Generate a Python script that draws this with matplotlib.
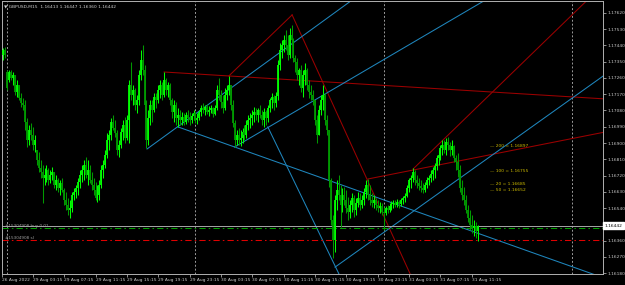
import numpy as np
import matplotlib.pyplot as plt

# GBPUSD M15 bars, numbered from 29 Aug 00:00 (first two bars are Friday 26 Aug)
bar_start = -2
opens = [
    1.17387, 1.17415, 1.17293, 1.17249, 1.17293, 1.17260, 1.17277, 1.17183, 1.17221, 1.17149,
    1.17122, 1.17111, 1.17016, 1.16917, 1.16972, 1.16944, 1.16889, 1.16861, 1.16806, 1.16762,
    1.16739, 1.16706, 1.16723, 1.16751, 1.16695, 1.16723, 1.16739, 1.16667, 1.16695, 1.16651,
    1.16679, 1.16640, 1.16584, 1.16557, 1.16529, 1.16540, 1.16612, 1.16629, 1.16651, 1.16684,
    1.16723, 1.16751, 1.16778, 1.16723, 1.16751, 1.16695, 1.16667, 1.16640, 1.16595, 1.16612,
    1.16667, 1.16751, 1.16778, 1.16834, 1.16917, 1.16944, 1.17016, 1.16983, 1.16955, 1.16861,
    1.16889, 1.16961, 1.17000, 1.16927, 1.17028, 1.17221, 1.17166, 1.17194, 1.17111, 1.17138,
    1.17277, 1.17360, 1.17304, 1.17111, 1.16917, 1.17039, 1.17111, 1.17083, 1.17155, 1.17138,
    1.17194, 1.17221, 1.17166, 1.17249, 1.17194, 1.17221, 1.17138, 1.17072, 1.17111, 1.17039,
    1.17055, 1.17028, 1.17044, 1.17016, 1.17055, 1.17039, 1.17028, 1.17050, 1.17066, 1.17028,
    1.17039, 1.17072, 1.17094, 1.17083, 1.17099, 1.17072, 1.17083, 1.17094, 1.17061, 1.17094,
    1.17194, 1.17166, 1.17127, 1.17094, 1.17166, 1.17194, 1.17221, 1.17111, 1.17011, 1.16917,
    1.16944, 1.16917, 1.16927, 1.16961, 1.16944, 1.17000, 1.17028, 1.17039, 1.17055, 1.17072,
    1.17055, 1.17083, 1.17055, 1.17028, 1.17072, 1.17039, 1.17094, 1.17138, 1.17155, 1.17122,
    1.17160, 1.17332, 1.17415, 1.17443, 1.17471, 1.17443, 1.17387, 1.17498, 1.17471, 1.17371,
    1.17349, 1.17277, 1.17304, 1.17205, 1.17277, 1.17304, 1.17221, 1.17183, 1.17166, 1.17138,
    1.17028, 1.16944, 1.17083, 1.17138, 1.17166, 1.17028, 1.16972, 1.16695, 1.16474, 1.16363,
    1.16584, 1.16640, 1.16612, 1.16557, 1.16612, 1.16584, 1.16540, 1.16518, 1.16557, 1.16595,
    1.16529, 1.16568, 1.16595, 1.16557, 1.16584, 1.16629, 1.16667, 1.16612, 1.16584, 1.16568,
    1.16584, 1.16557, 1.16540, 1.16551, 1.16518, 1.16512, 1.16540, 1.16529, 1.16551, 1.16562,
    1.16568, 1.16557, 1.16573, 1.16562, 1.16584, 1.16595, 1.16607, 1.16651, 1.16695, 1.16706,
    1.16739, 1.16695, 1.16679, 1.16662, 1.16651, 1.16640, 1.16667, 1.16695, 1.16706, 1.16728,
    1.16751, 1.16773, 1.16817, 1.16834, 1.16872, 1.16889, 1.16861, 1.16906, 1.16889, 1.16861,
    1.16883, 1.16817, 1.16795, 1.16751, 1.16651, 1.16612, 1.16584, 1.16529, 1.16485, 1.16446,
    1.16429, 1.16440, 1.16413,
]
highs = [
    1.17426, 1.17432, 1.17304, 1.17304, 1.17304, 1.17293, 1.17277, 1.17249, 1.17221, 1.17177,
    1.17149, 1.17138, 1.17039, 1.17000, 1.17011, 1.16989, 1.16944, 1.16861, 1.16850, 1.16806,
    1.16778, 1.16762, 1.16778, 1.16762, 1.16751, 1.16767, 1.16739, 1.16723, 1.16706, 1.16695,
    1.16706, 1.16651, 1.16629, 1.16595, 1.16584, 1.16629, 1.16651, 1.16667, 1.16706, 1.16751,
    1.16778, 1.16806, 1.16823, 1.16806, 1.16778, 1.16739, 1.16706, 1.16684, 1.16667, 1.16695,
    1.16778, 1.16806, 1.16861, 1.16955, 1.16972, 1.17039, 1.17055, 1.17028, 1.16972, 1.16917,
    1.16983, 1.17028, 1.17044, 1.17055, 1.17249, 1.17349, 1.17221, 1.17205, 1.17166, 1.17304,
    1.17415, 1.17443, 1.17332, 1.17138, 1.17083, 1.17138, 1.17138, 1.17177, 1.17177, 1.17221,
    1.17249, 1.17238, 1.17293, 1.17260, 1.17238, 1.17232, 1.17149, 1.17138, 1.17127, 1.17094,
    1.17083, 1.17072, 1.17066, 1.17072, 1.17083, 1.17072, 1.17066, 1.17083, 1.17072, 1.17066,
    1.17083, 1.17111, 1.17122, 1.17111, 1.17116, 1.17105, 1.17111, 1.17099, 1.17111, 1.17221,
    1.17260, 1.17194, 1.17166, 1.17205, 1.17221, 1.17271, 1.17205, 1.17138, 1.17028, 1.16972,
    1.16983, 1.16972, 1.16983, 1.17000, 1.17028, 1.17055, 1.17066, 1.17083, 1.17099, 1.17094,
    1.17094, 1.17111, 1.17083, 1.17094, 1.17083, 1.17111, 1.17149, 1.17177, 1.17166, 1.17183,
    1.17360, 1.17454, 1.17471, 1.17498, 1.17526, 1.17498, 1.17537, 1.17554, 1.17482, 1.17387,
    1.17371, 1.17315, 1.17332, 1.17304, 1.17343, 1.17315, 1.17249, 1.17221, 1.17194, 1.17138,
    1.17055, 1.17111, 1.17166, 1.17221, 1.17177, 1.17055, 1.16972, 1.16706, 1.16501, 1.16612,
    1.16695, 1.16723, 1.16667, 1.16651, 1.16656, 1.16640, 1.16601, 1.16584, 1.16623, 1.16612,
    1.16595, 1.16629, 1.16623, 1.16612, 1.16651, 1.16695, 1.16701, 1.16667, 1.16623, 1.16612,
    1.16595, 1.16584, 1.16573, 1.16568, 1.16546, 1.16551, 1.16557, 1.16568, 1.16579, 1.16584,
    1.16584, 1.16590, 1.16584, 1.16595, 1.16607, 1.16623, 1.16667, 1.16706, 1.16723, 1.16762,
    1.16751, 1.16723, 1.16706, 1.16695, 1.16679, 1.16684, 1.16712, 1.16723, 1.16751, 1.16767,
    1.16789, 1.16834, 1.16861, 1.16889, 1.16917, 1.16917, 1.16927, 1.16933, 1.16906, 1.16917,
    1.16889, 1.16834, 1.16845, 1.16778, 1.16695, 1.16656, 1.16612, 1.16557, 1.16529, 1.16501,
    1.16474, 1.16463, 1.16447,
]
lows = [
    1.17360, 1.17371, 1.17194, 1.17238, 1.17249, 1.17221, 1.17166, 1.17155, 1.17138, 1.17099,
    1.17083, 1.16972, 1.16878, 1.16889, 1.16917, 1.16861, 1.16850, 1.16778, 1.16739, 1.16706,
    1.16568, 1.16667, 1.16684, 1.16667, 1.16679, 1.16695, 1.16651, 1.16640, 1.16629, 1.16612,
    1.16629, 1.16557, 1.16529, 1.16501, 1.16485, 1.16518, 1.16584, 1.16595, 1.16612, 1.16651,
    1.16684, 1.16695, 1.16706, 1.16667, 1.16679, 1.16640, 1.16612, 1.16584, 1.16573, 1.16584,
    1.16651, 1.16706, 1.16762, 1.16817, 1.16861, 1.16917, 1.16972, 1.16933, 1.16834, 1.16823,
    1.16872, 1.16917, 1.16900, 1.16917, 1.16900, 1.17138, 1.17111, 1.17083, 1.17066, 1.17111,
    1.17249, 1.17277, 1.17083, 1.16872, 1.16889, 1.17000, 1.17016, 1.17072, 1.17094, 1.17122,
    1.17149, 1.17138, 1.17155, 1.17166, 1.17155, 1.17111, 1.17039, 1.17016, 1.17000, 1.16989,
    1.17000, 1.17000, 1.17000, 1.17005, 1.17016, 1.17000, 1.17011, 1.17028, 1.17011, 1.17005,
    1.17028, 1.17050, 1.17066, 1.17055, 1.17061, 1.17050, 1.17066, 1.17044, 1.17055, 1.17083,
    1.17138, 1.17094, 1.17066, 1.17083, 1.17138, 1.17166, 1.17083, 1.16989, 1.16878, 1.16889,
    1.16889, 1.16883, 1.16900, 1.16917, 1.16927, 1.16972, 1.16983, 1.17000, 1.17016, 1.17028,
    1.17016, 1.17039, 1.17000, 1.16989, 1.17000, 1.17016, 1.17072, 1.17094, 1.17083, 1.17099,
    1.17138, 1.17304, 1.17371, 1.17404, 1.17415, 1.17360, 1.17371, 1.17443, 1.17349, 1.17293,
    1.17249, 1.17221, 1.17183, 1.17155, 1.17221, 1.17194, 1.17149, 1.17138, 1.17111, 1.17000,
    1.16900, 1.16944, 1.17055, 1.17083, 1.17000, 1.16944, 1.16656, 1.16446, 1.16263, 1.16296,
    1.16529, 1.16584, 1.16435, 1.16518, 1.16557, 1.16512, 1.16474, 1.16485, 1.16518, 1.16490,
    1.16501, 1.16546, 1.16529, 1.16540, 1.16557, 1.16595, 1.16584, 1.16557, 1.16546, 1.16540,
    1.16529, 1.16518, 1.16512, 1.16501, 1.16418, 1.16501, 1.16512, 1.16518, 1.16529, 1.16540,
    1.16546, 1.16546, 1.16540, 1.16551, 1.16562, 1.16573, 1.16601, 1.16629, 1.16651, 1.16684,
    1.16667, 1.16651, 1.16640, 1.16629, 1.16623, 1.16629, 1.16651, 1.16667, 1.16684, 1.16695,
    1.16706, 1.16751, 1.16778, 1.16806, 1.16834, 1.16845, 1.16834, 1.16861, 1.16828, 1.16834,
    1.16795, 1.16751, 1.16712, 1.16629, 1.16584, 1.16557, 1.16512, 1.16463, 1.16418, 1.16402,
    1.16386, 1.16374, 1.16360,
]
closes = [
    1.17415, 1.17387, 1.17205, 1.17293, 1.17260, 1.17277, 1.17183, 1.17221, 1.17149, 1.17122,
    1.17111, 1.17016, 1.16917, 1.16972, 1.16944, 1.16889, 1.16917, 1.16806, 1.16762, 1.16739,
    1.16706, 1.16723, 1.16751, 1.16695, 1.16723, 1.16739, 1.16667, 1.16695, 1.16651, 1.16679,
    1.16640, 1.16584, 1.16557, 1.16529, 1.16540, 1.16612, 1.16629, 1.16651, 1.16684, 1.16723,
    1.16751, 1.16778, 1.16723, 1.16751, 1.16695, 1.16667, 1.16640, 1.16595, 1.16612, 1.16667,
    1.16751, 1.16778, 1.16834, 1.16917, 1.16944, 1.17016, 1.16983, 1.16955, 1.16861, 1.16889,
    1.16961, 1.17000, 1.16927, 1.17028, 1.17221, 1.17166, 1.17194, 1.17111, 1.17138, 1.17277,
    1.17360, 1.17304, 1.17111, 1.16917, 1.17039, 1.17111, 1.17083, 1.17155, 1.17138, 1.17194,
    1.17221, 1.17166, 1.17249, 1.17194, 1.17221, 1.17138, 1.17072, 1.17111, 1.17039, 1.17055,
    1.17028, 1.17044, 1.17016, 1.17055, 1.17039, 1.17028, 1.17050, 1.17066, 1.17028, 1.17039,
    1.17072, 1.17094, 1.17083, 1.17099, 1.17072, 1.17083, 1.17094, 1.17061, 1.17094, 1.17194,
    1.17166, 1.17127, 1.17094, 1.17166, 1.17194, 1.17221, 1.17111, 1.17011, 1.16917, 1.16944,
    1.16917, 1.16927, 1.16961, 1.16944, 1.17000, 1.17028, 1.17039, 1.17055, 1.17072, 1.17055,
    1.17083, 1.17055, 1.17028, 1.17072, 1.17039, 1.17094, 1.17138, 1.17155, 1.17122, 1.17160,
    1.17332, 1.17415, 1.17443, 1.17471, 1.17443, 1.17387, 1.17498, 1.17471, 1.17371, 1.17349,
    1.17277, 1.17304, 1.17205, 1.17277, 1.17304, 1.17221, 1.17183, 1.17166, 1.17138, 1.17028,
    1.16944, 1.17083, 1.17138, 1.17166, 1.17028, 1.16972, 1.16695, 1.16474, 1.16363, 1.16584,
    1.16640, 1.16612, 1.16557, 1.16612, 1.16584, 1.16540, 1.16518, 1.16557, 1.16595, 1.16529,
    1.16568, 1.16595, 1.16557, 1.16584, 1.16629, 1.16667, 1.16612, 1.16584, 1.16568, 1.16584,
    1.16557, 1.16540, 1.16551, 1.16518, 1.16512, 1.16540, 1.16529, 1.16551, 1.16562, 1.16568,
    1.16557, 1.16573, 1.16562, 1.16584, 1.16595, 1.16607, 1.16651, 1.16695, 1.16706, 1.16739,
    1.16695, 1.16679, 1.16662, 1.16651, 1.16640, 1.16667, 1.16695, 1.16706, 1.16728, 1.16751,
    1.16773, 1.16817, 1.16834, 1.16872, 1.16889, 1.16861, 1.16906, 1.16889, 1.16861, 1.16883,
    1.16817, 1.16795, 1.16751, 1.16651, 1.16612, 1.16584, 1.16529, 1.16485, 1.16446, 1.16429,
    1.16440, 1.16413, 1.16442,
]

symbol = "GBPUSD,M15"
bid = 1.16442
order_ticket = "#15304908"
order_price = 1.16428
order_sl = 1.16363

ma_periods = [200, 100, 20, 50]
ma_values = [1.16897, 1.16755, 1.16685, 1.16652]
ma_label_bar = 246

# trend lines as (bar1, price1, bar2, price2)
red_lines = [
    (80, 1.17293, 305, 1.17144),
    (113, 1.17271, 145.3, 1.17609),
    (145.3, 1.17609, 206.5, 1.16152),
    (184, 1.16701, 305, 1.16961),
    (207, 1.16756, 296, 1.17692),
]
blue_lines = [
    (71.3, 1.16867, 176, 1.17692),
    (87.1, 1.16989, 302.3, 1.16161),
    (116, 1.16878, 244, 1.17692),
    (132.9, 1.16989, 169.2, 1.16175),
    (167.2, 1.16213, 304, 1.17271),
]

day_breaks = [0, 96, 192, 288]
time_ticks = [-2.5, 13, 29, 45, 61, 77, 93, 109, 125, 141, 157, 173, 189, 205, 221, 237]
time_labels = ['26 Aug 2022', '29 Aug 03:15', '29 Aug 07:15', '29 Aug 11:15', '29 Aug 15:15',
               '29 Aug 19:15', '29 Aug 23:15', '30 Aug 03:15', '30 Aug 07:15', '30 Aug 11:15',
               '30 Aug 15:15', '30 Aug 19:15', '30 Aug 23:15', '31 Aug 03:15', '31 Aug 07:15',
               '31 Aug 11:15']
# 1.16450 sits under the bid price box, so it is not listed
price_ticks = [1.16180, 1.16270, 1.16360, 1.16540, 1.16630, 1.16720, 1.16810, 1.16900,
               1.16990, 1.17080, 1.17170, 1.17260, 1.17350, 1.17440, 1.17530, 1.17620]

o = np.array(opens)
h = np.array(highs)
l = np.array(lows)
c = np.array(closes)
x = np.arange(bar_start, bar_start + len(c))
up = c >= o

fig = plt.figure(figsize=(6.25, 2.85), dpi=100, facecolor='black')
ax = fig.add_axes([2 / 625, 11 / 285, 601 / 625, 273 / 285], facecolor='black')

for b in day_breaks:
    ax.axvline(b, color='#9a9a9a', lw=0.7, ls=(0, (2, 2)), zorder=1)

for x1, y1, x2, y2 in red_lines:
    ax.plot([x1, x2], [y1, y2], color='#9c0000', lw=0.75, zorder=2)
for x1, y1, x2, y2 in blue_lines:
    ax.plot([x1, x2], [y1, y2], color='#1f86bd', lw=0.75, zorder=2)

ax.axhline(bid, color='#a8a8a8', lw=0.7, zorder=2)
ax.axhline(order_price, color='#00a000', lw=0.75, ls=(0, (6, 3, 1.5, 3)), zorder=2)
ax.axhline(order_sl, color='#e00000', lw=0.75, ls=(0, (6, 3, 1.5, 3)), zorder=2)

bull = '#00ff00'
bear = '#009a00'
ax.vlines(x[up], l[up], h[up], colors=bull, lw=0.75, zorder=3)
ax.vlines(x[~up], l[~up], h[~up], colors=bear, lw=0.75, zorder=3)
ax.vlines(x[up], o[up], c[up], colors=bull, lw=1.3, zorder=4)
ax.vlines(x[~up], o[~up], c[~up], colors=bear, lw=1.3, zorder=4)

for period, val in zip(ma_periods, ma_values):
    ax.text(ma_label_bar, val, f'— {period} = {val:.5f}', color='#cdbb00', fontsize=3.2,
            va='top', ha='left', zorder=5)

ax.text(-1.3, order_price, f'{order_ticket} buy 0.01', color='#a0a0a0', fontsize=3.0,
        va='bottom', ha='left', zorder=5)
ax.text(-1.3, order_sl, f'{order_ticket} sl', color='#a0a0a0', fontsize=3.0,
        va='bottom', ha='left', zorder=5)

ax.text(0.003, 0.988, f'▼ {symbol}  {opens[-1]:.5f} {highs[-1]:.5f} {lows[-1]:.5f} {closes[-1]:.5f}',
        transform=ax.transAxes, color='#d0d0d0', fontsize=3.2, va='top', ha='left', zorder=5)

ax.text(1.003, bid, f'{bid:.5f}', transform=ax.get_yaxis_transform(), color='black',
        fontsize=3.2, va='center', ha='left', zorder=10, clip_on=False,
        bbox=dict(boxstyle='square,pad=0.3', facecolor='white', edgecolor='white'))

ax.set_xlim(-2.7, 303.9)
ax.set_ylim(1.16175, 1.17686)

ax.yaxis.tick_right()
ax.set_yticks(price_ticks)
ax.set_yticklabels([f'{p:.5f}' for p in price_ticks])
ax.set_xticks(time_ticks)
ax.set_xticklabels(time_labels)
for lbl in ax.get_xticklabels():
    lbl.set_horizontalalignment('left')
ax.tick_params(colors='#c8c8c8', labelsize=3.2, length=2, width=0.5, pad=1)

for sp in ax.spines.values():
    sp.set_color('#b0b0b0')
    sp.set_linewidth(0.7)

fig.savefig('out.png', dpi=100, facecolor='black')
